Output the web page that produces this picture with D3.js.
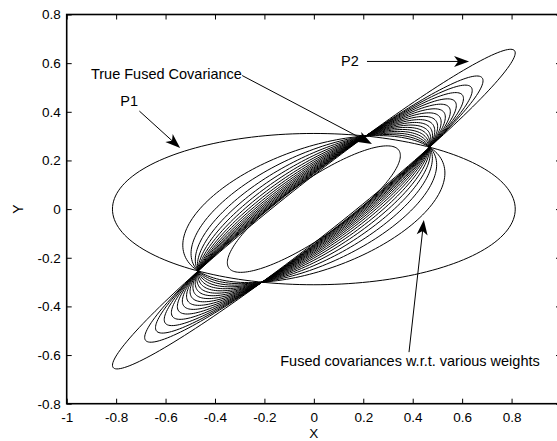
<!DOCTYPE html>
<html>
<head>
<meta charset="utf-8">
<script src="https://d3js.org/d3.v7.min.js"></script>
<style>
  body { margin: 0; background: #fff; }
  text { font-family: "Liberation Sans", Arial, sans-serif; fill: #000; }
</style>
</head>
<body>
<div id="ci_chart"></div>
<script>
// covariance matrices
var P1 = [[0.664, 0.0], [0.0, 0.0967]];
var P2 = [[0.6639, 0.5231], [0.5231, 0.4317]];
var PF = [[0.1225, 0.077], [0.077, 0.0676]];   // true fused covariance
// weights used for the covariance intersection family
var weights = [0.1, 0.15, 0.2, 0.25, 0.3, 0.35, 0.4, 0.45, 0.5,
               0.55, 0.6, 0.65, 0.7, 0.75, 0.8, 0.85, 0.9];

var xTicks = [-1, -0.8, -0.6, -0.4, -0.2, 0, 0.2, 0.4, 0.6, 0.8, 1];
var yTicks = [-0.8, -0.6, -0.4, -0.2, 0, 0.2, 0.4, 0.6, 0.8];
var xLabels = ["-1", "-0.8", "-0.6", "-0.4", "-0.2", "0", "0.2", "0.4", "0.6", "0.8", ""];
var yLabels = ["-0.8", "-0.6", "-0.4", "-0.2", "0", "0.2", "0.4", "0.6", "0.8"];

// annotations (data units): text, text pos, arrow from, arrow tip
var noteText = ["P2", "True Fused Covariance", "P1", "Fused covariances w.r.t. various weights"];
var noteAt = [[0.110, 0.588], [-0.902, 0.535], [-0.783, 0.424], [0.914, -0.645]];
var noteAnchor = ["start", "start", "start", "end"];
var arrowFrom = [[0.215, 0.607], [-0.290, 0.549], [-0.706, 0.403], [0.385, -0.588]];
var arrowTo = [[0.628, 0.607], [0.235, 0.268], [-0.541, 0.251], [0.445, -0.045]];

// set the dimensions and margins of the graph
var margin = {top: 14.5, left: 66.7},
    width = 494.3,
    height = 389.2;

var svg = d3.select("#ci_chart")
    .append("svg")
    .attr("width", 557)
    .attr("height", 441)
    .append("g")
    .attr("transform", "translate(" + margin.left + "," + margin.top + ")");

var x = d3.scaleLinear().domain([-1, 1]).range([0, width]);
var y = d3.scaleLinear().domain([-0.8, 0.8]).range([height, 0]);

// 2x2 helpers
function inv(m) {
    var det = m[0][0] * m[1][1] - m[0][1] * m[1][0];
    return [[m[1][1] / det, -m[0][1] / det], [-m[1][0] / det, m[0][0] / det]];
}
function ciCov(w) {
    var a = inv(P1), b = inv(P2);
    return inv([[w * a[0][0] + (1 - w) * b[0][0], w * a[0][1] + (1 - w) * b[0][1]],
                [w * a[1][0] + (1 - w) * b[1][0], w * a[1][1] + (1 - w) * b[1][1]]]);
}
// points of the unit-sigma ellipse of a covariance
function ellipse(P) {
    var l11 = Math.sqrt(P[0][0]),
        l21 = P[1][0] / l11,
        l22 = Math.sqrt(P[1][1] - l21 * l21);
    return d3.range(0, 361, 2).map(function(deg) {
        var t = deg * Math.PI / 180;
        return [l11 * Math.cos(t), l21 * Math.cos(t) + l22 * Math.sin(t)];
    });
}

var line = d3.line()
    .x(function(d) { return x(d[0]); })
    .y(function(d) { return y(d[1]); });

var covs = [P1, P2].concat(weights.map(ciCov)).concat([PF]);

svg.selectAll(".ell")
    .data(covs)
    .enter()
    .append("path")
    .attr("class", "ell")
    .attr("fill", "none")
    .attr("stroke", "#000")
    .attr("stroke-width", 1)
    .attr("d", function(d) { return line(ellipse(d)); });

// axes, matlab style box with inward ticks
var axisStyle = function(g) {
    g.select(".domain").remove();
    g.selectAll(".tick line").attr("stroke", "#000");
    g.selectAll("text").style("font-size", "13.5px");
};
svg.append("g")
    .attr("transform", "translate(0," + height + ")")
    .call(d3.axisBottom(x).tickValues(xTicks).tickSize(-5).tickPadding(8.5)
        .tickFormat(function(d, i) { return xLabels[i]; }))
    .call(axisStyle);
svg.append("g")
    .call(d3.axisTop(x).tickValues(xTicks).tickSize(-5).tickFormat(""))
    .call(axisStyle);
svg.append("g")
    .call(d3.axisLeft(y).tickValues(yTicks).tickSize(-5).tickPadding(6)
        .tickFormat(function(d, i) { return yLabels[i]; }))
    .call(axisStyle);
svg.append("g")
    .attr("transform", "translate(" + width + ",0)")
    .call(d3.axisRight(y).tickValues(yTicks).tickSize(-5).tickFormat(""))
    .call(axisStyle);

svg.append("rect")
    .attr("width", width)
    .attr("height", height)
    .attr("fill", "none")
    .attr("stroke", "#000")
    .attr("stroke-width", 1.6);

// axis labels
svg.append("text")
    .attr("x", x(0))
    .attr("y", height + 34.3)
    .attr("text-anchor", "middle")
    .style("font-size", "13.5px")
    .text("X");
svg.append("text")
    .attr("transform", "translate(" + (-44) + "," + y(0) + ")rotate(-90)")
    .attr("text-anchor", "middle")
    .style("font-size", "14px")
    .text("Y");

// annotations with arrows
noteText.forEach(function(t, i) {
    svg.append("text")
        .attr("x", x(noteAt[i][0]))
        .attr("y", y(noteAt[i][1]))
        .attr("text-anchor", noteAnchor[i])
        .style("font-size", "14.5px")
        .text(t);

    var x0 = x(arrowFrom[i][0]), y0 = y(arrowFrom[i][1]),
        x1 = x(arrowTo[i][0]), y1 = y(arrowTo[i][1]);
    var ang = Math.atan2(y1 - y0, x1 - x0);
    svg.append("line")
        .attr("x1", x0).attr("y1", y0)
        .attr("x2", x1 - 8 * Math.cos(ang)).attr("y2", y1 - 8 * Math.sin(ang))
        .attr("stroke", "#000")
        .attr("stroke-width", 1);
    // arrow head, concave back
    var len = 15, half = 5.5, notch = 11;
    var c = Math.cos(ang), s = Math.sin(ang);
    var pts = [
        [x1, y1],
        [x1 - len * c + half * s, y1 - len * s - half * c],
        [x1 - notch * c, y1 - notch * s],
        [x1 - len * c - half * s, y1 - len * s + half * c]
    ];
    svg.append("path")
        .attr("d", "M" + pts.join("L") + "Z")
        .attr("fill", "#000");
});
</script>
</body>
</html>
